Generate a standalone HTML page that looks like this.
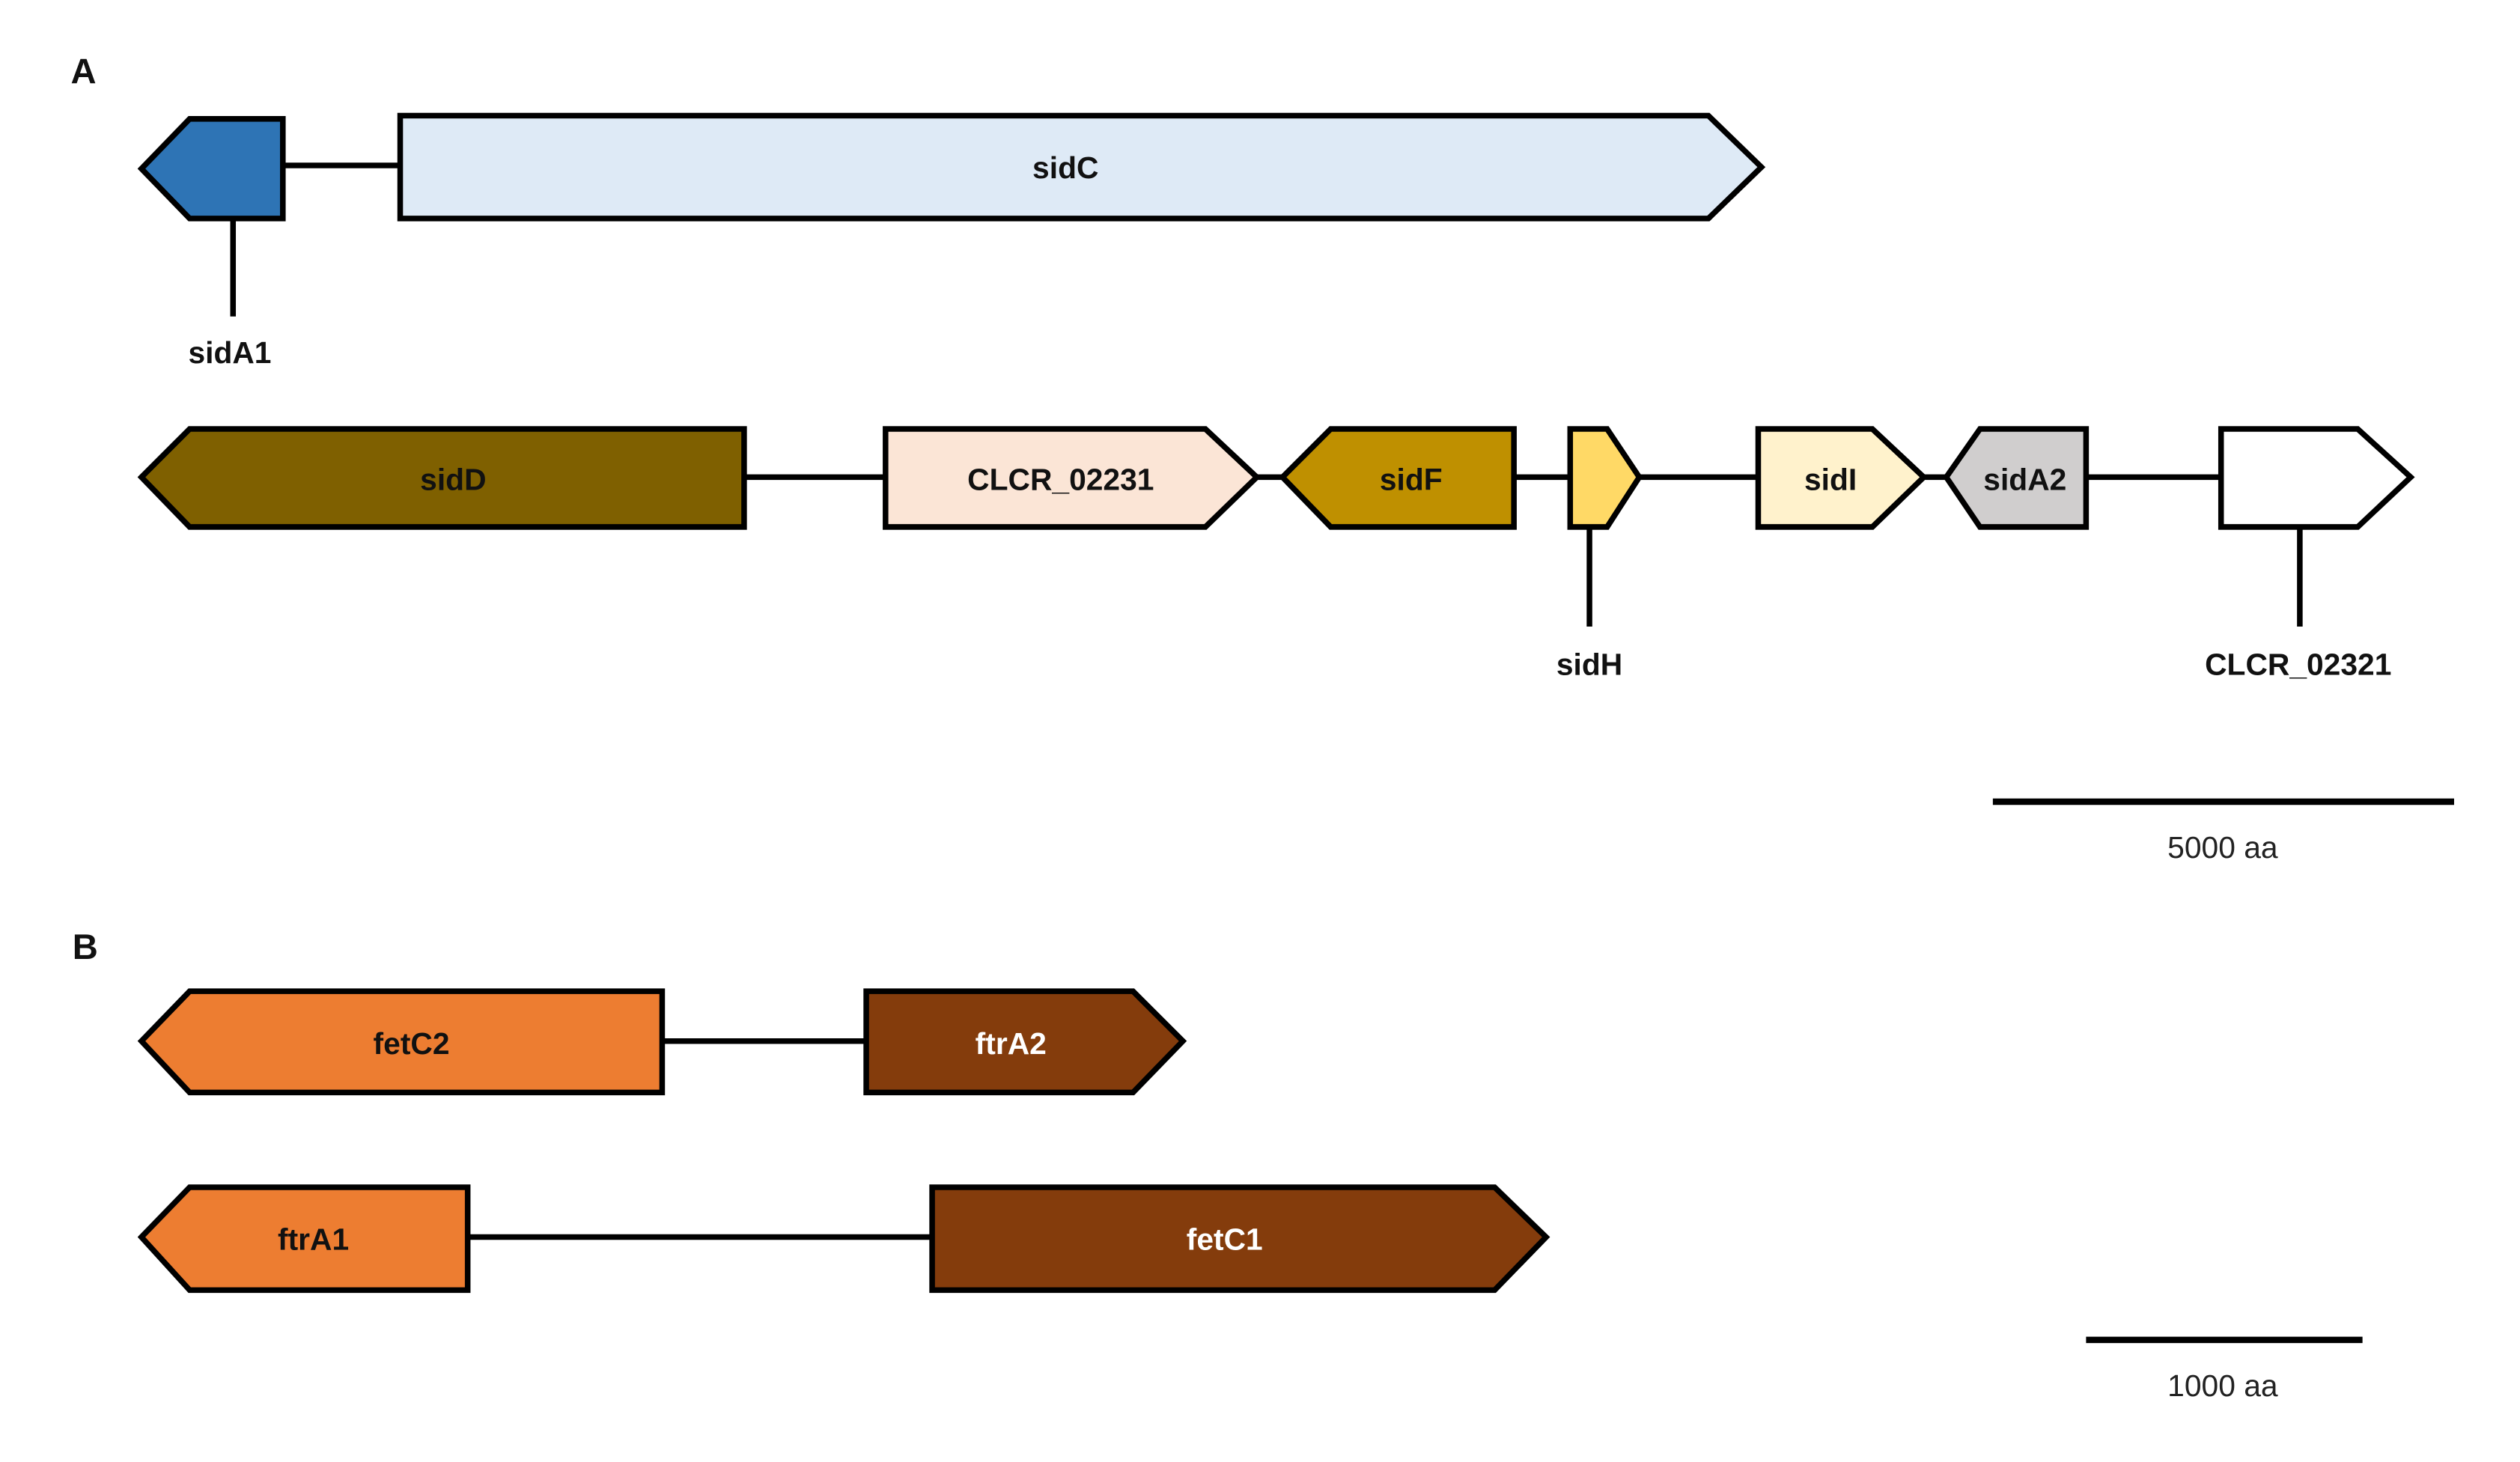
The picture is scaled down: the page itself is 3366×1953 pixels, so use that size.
<!DOCTYPE html>
<html><head><meta charset="utf-8"><style>html,body{margin:0;padding:0;background:#fff}svg{display:block}</style></head>
<body>
<svg width="3366" height="1953" viewBox="0 0 1568 910" preserveAspectRatio="none" xmlns="http://www.w3.org/2000/svg" font-family="Liberation Sans, Arial, sans-serif">
<g stroke="#000" stroke-width="3.5" stroke-linejoin="miter">
<line x1="176" y1="103" x2="249" y2="103"/>
<line x1="145" y1="136" x2="145" y2="197"/>
<line x1="463" y1="297" x2="551" y2="297"/>
<line x1="782" y1="297" x2="798" y2="297"/>
<line x1="942" y1="297" x2="977" y2="297"/>
<line x1="1020" y1="297" x2="1094" y2="297"/>
<line x1="1197" y1="297" x2="1211" y2="297"/>
<line x1="1298" y1="297" x2="1382" y2="297"/>
<line x1="989" y1="328" x2="989" y2="390"/>
<line x1="1431" y1="328" x2="1431" y2="390"/>
<line x1="1240" y1="499" x2="1527" y2="499" stroke-width="4"/>
<line x1="412" y1="648" x2="539" y2="648"/>
<line x1="291" y1="770" x2="580" y2="770"/>
<line x1="1298" y1="834" x2="1470" y2="834" stroke-width="4"/>
<polygon points="88,105 118,74 176,74 176,136 118,136" fill="#2e74b5"/>
<polygon points="249,72 1063,72 1096,104 1063,136 249,136" fill="#deeaf6"/>
<polygon points="88,297 118,267 463,267 463,328 118,328" fill="#7f6000"/>
<polygon points="551,267 750,267 782,297 750,328 551,328" fill="#fbe5d6"/>
<polygon points="798,297 828,267 942,267 942,328 828,328" fill="#bf9000"/>
<polygon points="977,267 1000,267 1020,297 1000,328 977,328" fill="#ffd966"/>
<polygon points="1094,267 1165,267 1197,297 1165,328 1094,328" fill="#fff2cc"/>
<polygon points="1211,297 1232,267 1298,267 1298,328 1232,328" fill="#d0cece"/>
<polygon points="1382,267 1467,267 1500,297 1467,328 1382,328" fill="#ffffff"/>
<polygon points="88,648 118,617 412,617 412,680 118,680" fill="#ed7d31"/>
<polygon points="539,617 705,617 736,648 705,680 539,680" fill="#843c0c"/>
<polygon points="88,770 118,739 291,739 291,803 118,803" fill="#ed7d31"/>
<polygon points="580,739 930,739 962,770 930,803 580,803" fill="#843c0c"/>
</g>
<g font-weight="bold" font-size="19" text-anchor="middle" fill="#111">
<text x="52" y="52" font-size="22">A</text>
<text x="53" y="597" font-size="22">B</text>
<text x="663" y="111">sidC</text>
<text x="143" y="226">sidA1</text>
<text x="282" y="305">sidD</text>
<text x="660" y="305">CLCR_02231</text>
<text x="878" y="305">sidF</text>
<text x="1139" y="305">sidI</text>
<text x="1260" y="305">sidA2</text>
<text x="989" y="420">sidH</text>
<text x="1430" y="420">CLCR_02321</text>
<text x="256" y="656">fetC2</text>
<text x="629" y="656" fill="#fff">ftrA2</text>
<text x="195" y="778">ftrA1</text>
<text x="762" y="778" fill="#fff">fetC1</text>
</g>
<g font-size="19" text-anchor="middle" fill="#222">
<text x="1383" y="534">5000 aa</text>
<text x="1383" y="869">1000 aa</text>
</g>
</svg>
</body></html>
